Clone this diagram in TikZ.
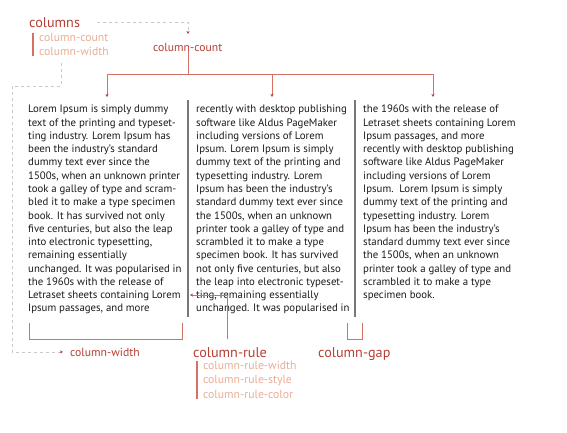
\documentclass[tikz,border=0pt]{standalone}
\usepackage{fontspec}
\setmainfont{PT Sans}
\usetikzlibrary{positioning, arrows.meta}
\definecolor{labelred}{RGB}{183,62,52}
\definecolor{sublabel}{RGB}{233,172,148}
\definecolor{linkred}{RGB}{214,112,100}
\definecolor{dashgray}{RGB}{205,198,198}
\definecolor{bodytext}{RGB}{25,25,25}
\definecolor{rulegray}{RGB}{120,120,120}

\begin{document}
\begin{tikzpicture}[x=1pt, y=-1pt,
        body/.style={anchor=north west, inner sep=0pt, align=left, text=bodytext,
                font=\fontsize{10.8}{13.27}\selectfont},
        biglabel/.style={text=labelred, anchor=base west, inner sep=0pt, font=\fontsize{14.2}{16}\selectfont},
        label/.style={text=labelred, anchor=base west, inner sep=0pt, font=\fontsize{11.7}{14}\selectfont},
        sublabel/.style={text=sublabel, anchor=base west, inner sep=0pt, font=\fontsize{11.7}{14}\selectfont},
        link/.style={draw=linkred, line width=0.8pt},
        hint/.style={draw=dashgray, dashed, line width=0.7pt},
        tip/.style={-{Stealth[length=3pt, width=3pt, color=labelred]}}]
    \useasboundingbox (0,0) rectangle (567,432);

    % labels
    \node[biglabel] (columns) at (29,27) {columns};
    \node[sublabel] (countsub) at (39,41) {column-count};
    \node[sublabel] (widthsub) at (39,55) {column-width};
    \node[label] (count) at (153,51) {column-count};
    \node[label] (width) at (70,356) {column-width};
    \node[biglabel] (rule) at (193,357) {column-rule};
    \node[sublabel] (rulewidth) at (203,369) {column-rule-width};
    \node[sublabel] (rulestyle) at (203,383) {column-rule-style};
    \node[sublabel] (rulecolor) at (203,398) {column-rule-color};
    \node[biglabel] (gap) at (318,357) {column-gap};

    % the three columns
    \node[body] (col1) at (28,105) {Lorem Ipsum is simply dummy\\
        text of the printing and typeset-\\
        ting industry. Lorem Ipsum has\\
        been the industry's standard\\
        dummy text ever since the\\
        1500s, when an unknown printer\\
        took a galley of type and scram-\\
        bled it to make a type specimen\\
        book. It has survived not only\\
        five centuries, but also the leap\\
        into electronic typesetting,\\
        remaining essentially\\
        unchanged. It was popularised in\\
        the 1960s with the release of\\
        Letraset sheets containing Lorem\\
        Ipsum passages, and more};
    \node[body] (col2) at (196,105) {recently with desktop publishing\\
        software like Aldus PageMaker\\
        including versions of Lorem\\
        Ipsum. Lorem Ipsum is simply\\
        dummy text of the printing and\\
        typesetting industry. Lorem\\
        Ipsum has been the industry's\\
        standard dummy text ever since\\
        the 1500s, when an unknown\\
        printer took a galley of type and\\
        scrambled it to make a type\\
        specimen book. It has survived\\
        not only five centuries, but also\\
        the leap into electronic typeset-\\
        ting, remaining essentially\\
        unchanged. It was popularised in};
    \node[body] (col3) at (363,105) {the 1960s with the release of\\
        Letraset sheets containing Lorem\\
        Ipsum passages, and more\\
        recently with desktop publishing\\
        software like Aldus PageMaker\\
        including versions of Lorem\\
        Ipsum.\ \ Lorem Ipsum is simply\\
        dummy text of the printing and\\
        typesetting industry. Lorem\\
        Ipsum has been the industry's\\
        standard dummy text ever since\\
        the 1500s, when an unknown\\
        printer took a galley of type and\\
        scrambled it to make a type\\
        specimen book.};

    % column rules
    \draw[rulegray, line width=1.3pt] (188,100) -- (188,317);
    \draw[rulegray, line width=1.3pt] (355,100) -- (355,317);

    % bars beside the sub-labels
    \draw[linkred, line width=1.2pt] (33,33) -- (33,56);
    \draw[linkred, line width=1.2pt] (197,361) -- (197,399);

    % column-count fork
    \coordinate (fork) at (188,74);
    \coordinate (arrow1) at (107,97);
    \coordinate (arrow2) at (272,97);
    \coordinate (arrow3) at (433,97);
    \draw[link] (count.south -| fork) -- (fork);
    \draw[link, tip] (fork) -| (arrow1);
    \draw[link, tip] (fork) -| (arrow3);
    \draw[link, tip] (fork -| arrow2) -- (arrow2);

    % dashed hints
    \coordinate (counthint) at (188,34);
    \coordinate (widthhint) at (61,63);
    \draw[hint, tip] ([xshift=17pt]columns.east) -| (counthint);
    \draw[hint, tip] (widthhint) -- (61,86) -- (12,86) |- ([xshift=-7pt]width.west);

    % brackets
    \draw[link] (29,323) |- (182,339) -- (182,323);
    \draw[link] (347,323) |- (362,339) -- (362,323);

    % column-rule pointer
    \coordinate (rulefoot) at (227,339);
    \coordinate (rulehit) at (190,295);
    \draw[link, tip] (rulefoot) |- (rulehit);
\end{tikzpicture}
\end{document}
